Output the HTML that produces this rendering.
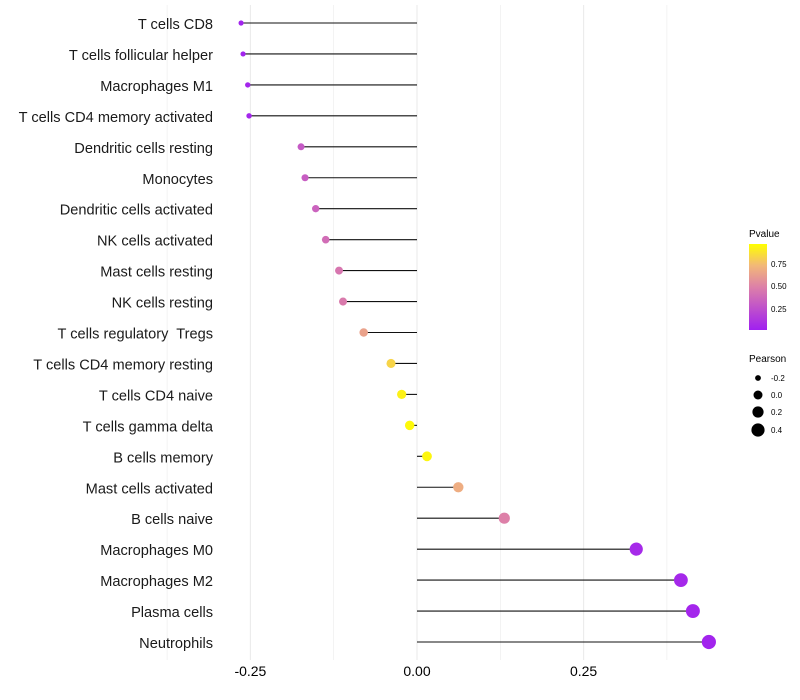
<!DOCTYPE html>
<html><head><meta charset="utf-8"><style>
body{margin:0;background:#fff;font-family:"Liberation Sans",sans-serif}
svg{display:block}
</style></head><body>
<svg id="chart" width="800" height="700">
<defs><linearGradient id="pg" x1="0" y1="1" x2="0" y2="0">
<stop offset="0" stop-color="#a020f0"/><stop offset="0.5" stop-color="#dd80a8"/><stop offset="0.75" stop-color="#f2b878"/><stop offset="1" stop-color="#ffff00"/></linearGradient></defs>
<g id="grid"></g><g id="marks"></g><g id="labels"></g><g id="xt"></g>
<g>
<text x="749" y="237" font-size="10">Pvalue</text>
<rect x="749" y="244" width="18" height="86" fill="url(#pg)"/>
<text x="771" y="267" font-size="8">0.75</text>
<text x="771" y="289" font-size="8">0.50</text>
<text x="771" y="312" font-size="8">0.25</text>
</g>
<g>
<text x="749" y="362" font-size="10">Pearson</text>
<circle cx="758" cy="378" r="2.9"/><text x="771" y="381" font-size="8">-0.2</text>
<circle cx="758" cy="395" r="4.5"/><text x="771" y="398" font-size="8">0.0</text>
<circle cx="758" cy="412" r="5.6"/><text x="771" y="415" font-size="8">0.2</text>
<circle cx="758" cy="430" r="6.6"/><text x="771" y="433" font-size="8">0.4</text>
</g>
</svg>
<script>
const categories=["T cells CD8","T cells follicular helper","Macrophages M1","T cells CD4 memory activated","Dendritic cells resting","Monocytes","Dendritic cells activated","NK cells activated","Mast cells resting","NK cells resting","T cells regulatory  Tregs","T cells CD4 memory resting","T cells CD4 naive","T cells gamma delta","B cells memory","Mast cells activated","B cells naive","Macrophages M0","Macrophages M2","Plasma cells","Neutrophils"];
const pearson=[-0.264,-0.261,-0.254,-0.252,-0.174,-0.168,-0.152,-0.137,-0.117,-0.111,-0.080,-0.039,-0.023,-0.011,0.015,0.062,0.131,0.329,0.396,0.414,0.438];
const pvalue=[0.02,0.02,0.03,0.03,0.3,0.32,0.35,0.4,0.45,0.47,0.65,0.85,0.95,0.98,0.97,0.7,0.5,0.05,0.04,0.03,0.02];
const xTicks=[-0.25,0,0.25];
const xTickLabels=["-0.25","0.00","0.25"];
const NS="http://www.w3.org/2000/svg";
const xs=v=>417+v*666.4;
const ys=i=>23+i*30.95;
const rs=v=>Math.sqrt(Math.max(1,23+62*v));
function col(p){const st=[[0,[160,32,240]],[0.5,[221,128,168]],[0.75,[242,184,120]],[1,[255,255,0]]];
for(let k=1;k<st.length;k++){if(p<=st[k][0]){const a=st[k-1],b=st[k],t=(p-a[0])/(b[0]-a[0]);
return "rgb("+a[1].map((c,j)=>Math.round(c+(b[1][j]-c)*t)).join(",")+")";}}return "rgb(255,255,0)";}
function mk(t,attrs,parent){const e=document.createElementNS(NS,t);for(const k in attrs)e.setAttribute(k,attrs[k]);document.getElementById(parent).appendChild(e);return e;}
[-0.375,-0.25,-0.125,0,0.125,0.25,0.375].forEach(v=>{
const g=mk("line",{x1:xs(v),x2:xs(v),y1:5,y2:660,stroke:"#ebebeb","stroke-width":Math.abs(v*8)%2===1?0.6:1.1},"grid");

});
xTicks.forEach((v,i)=>{const t=mk("text",{x:xs(v),y:676,"font-size":14,"text-anchor":"middle"},"xt");t.textContent=xTickLabels[i];

});
categories.forEach((c,i)=>{
const y=ys(i);
const t=mk("text",{x:213,y:y+6,"font-size":14.6,"text-anchor":"end",fill:"#1a1a1a"},"labels");t.textContent=c;
t.setAttribute('style','white-space:pre');


const l=mk("line",{x1:xs(0),x2:xs(pearson[i]),y1:y,y2:y,stroke:"#111","stroke-width":1.1},"marks");


const p=mk("circle",{cx:xs(pearson[i]),cy:y,r:rs(pearson[i]),fill:col(pvalue[i])},"marks");


});
</script>
</body></html>
